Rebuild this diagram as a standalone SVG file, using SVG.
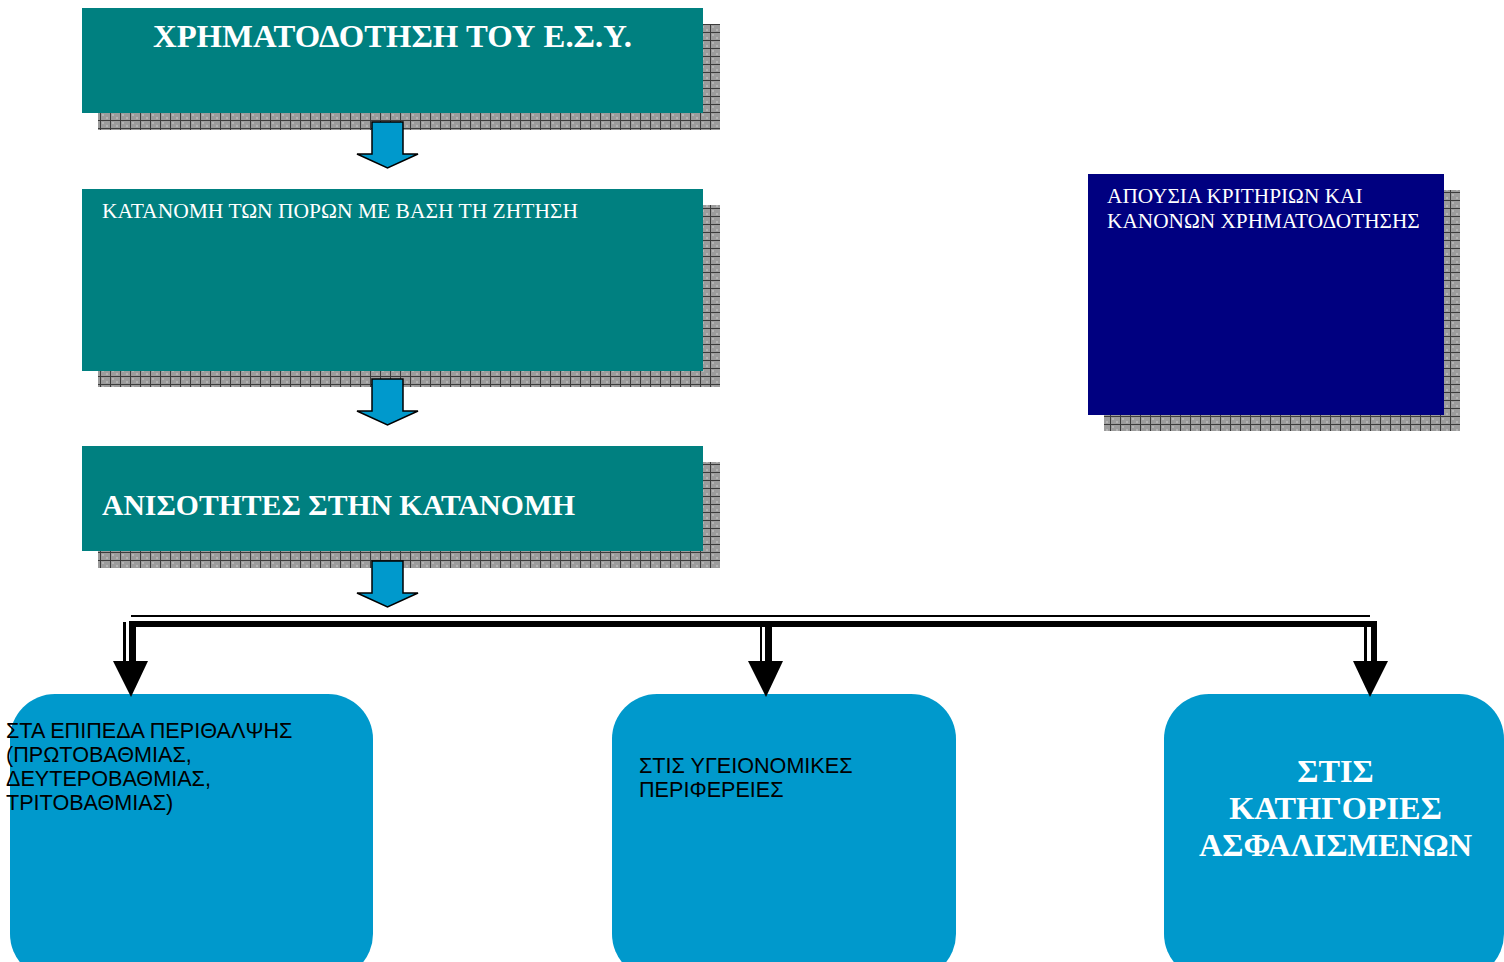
<svg xmlns="http://www.w3.org/2000/svg" width="1504" height="962" viewBox="0 0 1504 962">
<style>
.teal{fill:#008080}
.navy{fill:#000080}
.blue{fill:#0099CC}
.shadow{fill:url(#grid)}
.barrow{fill:#0099CC;stroke:#000;stroke-width:1.5;stroke-linejoin:miter}
.serif{font-family:"Liberation Serif","Times New Roman",serif;fill:#fff}
.sans{font-family:"Liberation Sans",Arial,sans-serif;fill:#000;font-size:21.6px}
.ink{fill:#000}
</style>
<defs>
<pattern id="grid" x="0" y="0" width="10" height="8" patternUnits="userSpaceOnUse">
<rect width="10" height="8" fill="#9c9c9c"/>
<rect x="2" y="2" width="2" height="2" fill="#b4b4b4"/>
<rect x="6" y="5" width="2" height="2" fill="#b4b4b4"/>
<rect x="0" y="0" width="10" height="1" fill="#3c3c3c"/>
<rect x="0" y="0" width="1" height="8" fill="#3c3c3c"/>
</pattern>
</defs>

<g id="node-funding">
<rect class="shadow" x="98" y="24" width="622" height="106"/>
<rect class="teal" x="82" y="8" width="621" height="105"/>
<text class="serif" x="153" y="47" font-size="31" font-weight="bold" textLength="479" lengthAdjust="spacingAndGlyphs">ΧΡΗΜΑΤΟΔΟΤΗΣΗ ΤΟΥ Ε.Σ.Υ.</text>
</g>

<g id="node-allocation">
<rect class="shadow" x="98" y="205" width="622" height="182"/>
<rect class="teal" x="82" y="189" width="621" height="182"/>
<text class="serif" x="102" y="218" font-size="20.5" textLength="476" lengthAdjust="spacingAndGlyphs">ΚΑΤΑΝΟΜΗ ΤΩΝ ΠΟΡΩΝ ΜΕ ΒΑΣΗ ΤΗ ΖΗΤΗΣΗ</text>
</g>

<g id="node-inequalities">
<rect class="shadow" x="98" y="462" width="622" height="106"/>
<rect class="teal" x="82" y="446" width="621" height="105"/>
<text class="serif" x="102" y="515" font-size="29.5" font-weight="bold" textLength="473" lengthAdjust="spacingAndGlyphs">ΑΝΙΣΟΤΗΤΕΣ ΣΤΗΝ ΚΑΤΑΝΟΜΗ</text>
</g>

<g id="node-criteria">
<rect class="shadow" x="1104" y="190" width="356" height="241"/>
<rect class="navy" x="1088" y="174" width="356" height="241"/>
<text class="serif" font-size="21.3"><tspan x="1107" y="203">ΑΠΟΥΣΙΑ ΚΡΙΤΗΡΙΩΝ ΚΑΙ</tspan><tspan x="1107" y="228">ΚΑΝΟΝΩΝ ΧΡΗΜΑΤΟΔΟΤΗΣΗΣ</tspan></text>
</g>

<g id="node-levels">
<rect class="blue" x="10" y="694" width="363" height="285" rx="45" ry="45"/>
<text class="sans"><tspan x="6" y="738">ΣΤΑ ΕΠΙΠΕΔΑ ΠΕΡΙΘΑΛΨΗΣ</tspan><tspan x="6" y="762">(ΠΡΩΤΟΒΑΘΜΙΑΣ,</tspan><tspan x="6" y="786">ΔΕΥΤΕΡΟΒΑΘΜΙΑΣ,</tspan><tspan x="6" y="810">ΤΡΙΤΟΒΑΘΜΙΑΣ)</tspan></text>
</g>

<g id="node-regions">
<rect class="blue" x="612" y="694" width="344" height="285" rx="45" ry="45"/>
<text class="sans"><tspan x="639" y="773">ΣΤΙΣ ΥΓΕΙΟΝΟΜΙΚΕΣ</tspan><tspan x="639" y="797">ΠΕΡΙΦΕΡΕΙΕΣ</tspan></text>
</g>

<g id="node-insured">
<rect class="blue" x="1164" y="694" width="340" height="285" rx="45" ry="45"/>
<text class="serif" font-size="32.3" font-weight="bold" text-anchor="middle"><tspan x="1335.5" y="782">ΣΤΙΣ</tspan><tspan x="1335.5" y="819">ΚΑΤΗΓΟΡΙΕΣ</tspan><tspan x="1335.5" y="856">ΑΣΦΑΛΙΣΜΕΝΩΝ</tspan></text>
</g>

<g id="connectors">
<path class="barrow" d="M372,122 H403 V154 H418 L387.5,168 L357,154 H372 Z"/>
<path class="barrow" d="M372,379 H403 V411 H418 L387.5,425 L357,411 H372 Z"/>
<path class="barrow" d="M372,561 H403 V593 H418 L387.5,607 L357,593 H372 Z"/>
<rect class="ink" x="131" y="615" width="1239" height="2"/>
<rect class="ink" x="129" y="621" width="1248" height="6"/>
<rect class="ink" x="129" y="621" width="7" height="42"/>
<rect class="ink" x="123" y="622" width="3" height="41"/>
<polygon class="ink" points="113,661 148,661 131,697"/>
<rect class="ink" x="765" y="621" width="7" height="42"/>
<rect class="ink" x="760" y="627" width="2" height="36"/>
<polygon class="ink" points="748,661 783,661 766,697"/>
<rect class="ink" x="1371" y="621" width="6" height="42"/>
<rect class="ink" x="1364" y="627" width="3" height="36"/>
<polygon class="ink" points="1353,661 1388,661 1370,697"/>
</g>
</svg>
